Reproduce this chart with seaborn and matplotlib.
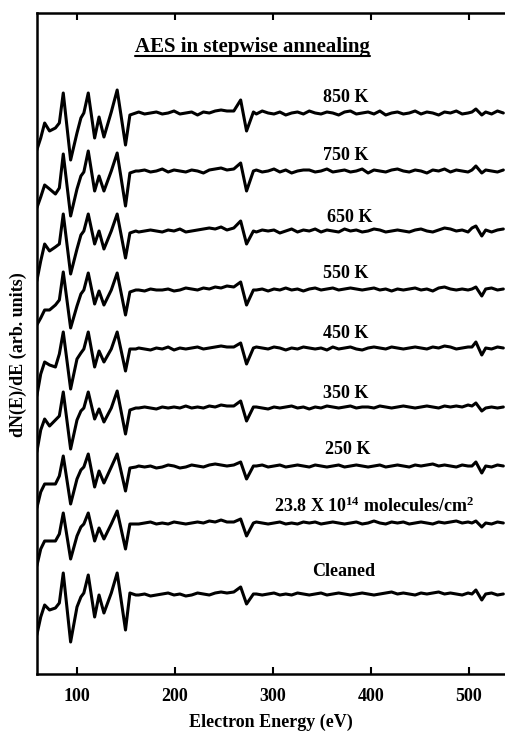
import numpy as np
import pandas as pd
import matplotlib
matplotlib.use("Agg")
import matplotlib.pyplot as plt
import seaborn as sns
from matplotlib.lines import Line2D

# spectra, top to bottom
SAMPLES = ["850 K", "750 K", "650 K", "550 K", "450 K", "350 K", "250 K",
           "23.8 X 10$^{14}$ molecules/cm$^{2}$", "Cleaned"]
# vertical offset of each trace (arb. units)
OFFSETS = [561, 503, 443, 384, 325, 266, 207, 150, 79]

# low-energy region: Si / C / O features
LOW_E = [59, 63, 67, 72, 78, 82, 86, 93.5, 100, 104, 107, 111.5, 118, 122.5,
         127.5, 135, 141, 149.5, 154, 160]
LOW_VALS = [
    [-37, -25, -10, -18, -15, -10, 20, -47, -20, -5, 0, 20, -25, -4, -24, 1, 23, -32, -2, 0],
    [-37, -26, -14, -18, -23, -17, 17, -45, -18, -5, -1, 20, -20, -5, -20, 0, 18, -35, -2, 0],
    [-50, -30, -13, -20, -16, -13, 17, -43, -18, -4, 0, 17, -13, 0, -18, 0, 17, -27, -2, 0],
    [-35, -28, -20, -20, -15, -10, 18, -38, -16, -4, 0, 17, -14, -1, -15, 0, 17, -25, -2, 0],
    [-47, -25, -13, -16, -18, -5, 17, -40, -10, -4, 0, 17, -18, -2, -13, 0, 17, -22, 0, 0],
    [-44, -22, -11, -18, -12, -8, 16, -41, -12, -3, 0, 16, -11, -1, -14, 0, 17, -26, -2, 0],
    [-41, -25, -17, -17, -17, -9, 11, -37, -12, -3, 0, 13, -20, -4, -16, 0, 13, -24, -1, 0],
    [-42, -25, -17, -17, -17, -10, 11, -35, -12, -3, 0, 11, -17, -4, -15, 0, 13, -25, 0, 0],
    [-40, -22, -10, -15, -13, -8, 22, -47, -12, -2, 2, 20, -22, 0, -18, 2, 22, -35, 2, 0],
]

# flat high-energy tail, read every 6 eV from 163 eV
TAIL_E = list(range(163, 538, 6))
TAIL_VALS = [
    [1, -1, 0, 1, -1, 0, 2, -1, 0, 1, -2, 1, 0, 2, 3, 2, 0, 0, 0, 0, -1, 2, 0, -1, 1, -2, 0,
     1, -1, 2, 0, -1, 1, 0, -2, 1, 2, -1, 0, 1, -1, 2, -2, 0, 1, -1, 0, 2, -1, 1, 0, -2, 1, 0,
     2, -1, 0, 0, 0, 1, -1, 2, 0],
    [0, 1, -1, 0, 2, -1, 1, 0, -1, 1, 0, -2, 1, 2, 3, 1, 0, 0, 0, 0, 1, -1, 0, 2, -1, 1, -2,
     0, 1, 1, -1, 0, 2, -1, 0, 1, -1, 0, 2, -2, 1, 0, -1, 1, 2, 0, -1, 1, 0, -2, 1, 0, 2, -1,
     1, 0, -1, 0, 0, 1, 0, -1, 1],
    [-1, 0, 1, 0, -1, 1, 0, 2, -1, 0, 1, 2, 3, 2, 4, 1, 0, 0, 0, 0, -1, 1, 0, 1, -2, 0, 2,
     -1, 1, 0, 2, -1, 1, 0, -1, 2, 0, 1, -1, 0, 2, 1, -1, 0, 1, 0, -1, 1, 2, 0, -1, 1, 3, 2,
     0, 1, -1, 0, 0, 1, -1, 1, 2],
    [0, -1, 1, 0, 0, 1, -1, 0, 2, 1, 0, 2, 1, 3, 2, 4, 0, 0, 0, 0, 0, 1, -1, 1, 0, 2, 0,
     1, -1, 1, 2, 0, 1, 2, 0, 1, 2, 1, 0, 1, 2, 0, 1, -1, 1, 0, 1, 2, 0, 1, -1, 2, 3, 1,
     0, 1, 0, 0, 0, 1, 2, 0, 1],
    [1, 0, -1, 1, 0, 2, -1, 1, 0, 1, 2, 0, 1, 2, 3, 2, 0, 0, 0, 0, 2, 1, 0, 2, 1, -1, 1,
     0, 2, 1, 0, 1, -1, 2, 0, 1, 2, 0, -1, 1, 2, 1, 0, 2, 1, 0, 1, 2, 1, 0, 2, 1, 3, 2,
     0, 1, 2, 0, 0, 1, 0, 2, 1],
    [0, 1, 0, -1, 1, 0, 1, 0, 2, 0, 1, 0, 2, 1, 3, 2, 0, 0, 0, 0, 1, 0, -1, 1, 0, 1, 2,
     0, 1, -1, 1, 0, 2, 1, 0, 1, 2, 0, 1, 1, 0, 2, 1, 0, 1, 2, 1, 0, 1, 2, 1, 0, 2, 1,
     2, 1, 3, 0, 0, 0, 1, 0, 1],
    [1, 0, 1, -1, 0, 2, 1, -1, 0, 2, 1, 0, 2, 3, 2, 1, 0, 0, 0, 0, 1, 2, 0, 1, 2, 0, 1,
     2, 1, 0, 2, 1, 0, 1, 2, 0, 1, 2, 1, 0, 1, 2, 0, 1, 2, 1, 0, 2, 1, 2, 3, 1, 2, 1,
     0, 2, 1, 0, 0, 1, 0, 2, 1],
    [0, 1, 2, 0, 1, 0, 2, 1, 0, 1, 2, 1, 3, 2, 4, 2, 0, 0, 0, 0, 2, 1, 0, 1, 2, 0, 1,
     0, 2, 1, 2, 0, 1, 2, 1, 0, 1, 2, 0, 1, 3, 1, 0, 2, 1, 2, 0, 1, 2, 1, 0, 2, 1, 2,
     3, 1, 2, 0, 0, 1, 0, 2, 1],
    [0, 1, -1, 0, 1, 2, 0, 1, -1, 0, 2, 1, 0, 2, 3, 2, 0, 0, 0, 0, 1, 0, 1, 2, 0, 1, 0,
     2, 1, 0, 1, 2, 0, 1, 2, 1, 0, 1, 2, 1, 0, 1, 2, 3, 1, 2, 1, 0, 2, 1, 2, 3, 1, 2,
     1, 0, 2, 0, 0, 1, 2, 0, 1],
]

# sulfur LMM feature
S_E = [260, 267, 273, 280]
S_VALS = [[2, 13, -18, 1], [2, 8, -20, 0], [3, 10, -13, 0], [3, 8, -15, 0],
          [2, 6, -15, 1], [2, 7, -13, 1], [2, 5, -12, 1], [2, 5, -12, 1], [3, 8, -9, 1]]

# oxygen KLL feature
K_E = [503, 507, 513]
K_VALS = [[1, 4, -2], [1, 5, -2], [3, 5, -5], [1, 3, -6], [2, 7, -6],
          [2, 5, -3], [1, 5, -6], [1, 3, -3], [1, 5, -5]]

# label anchor (eV, arb. units)
LABEL_X = [374, 374, 378, 374, 374, 374, 376, 403, 372]
LABEL_Y = [577, 519, 456, 400, 341, 281, 225, 168, 102]


def build_frame():
    rows = []
    for i, name in enumerate(SAMPLES):
        pts = list(zip(LOW_E, LOW_VALS[i]))
        for e, v in zip(TAIL_E, TAIL_VALS[i]):
            if 256 <= e <= 282 or 500 <= e <= 516:
                continue
            pts.append((e, v))
        pts += list(zip(S_E, S_VALS[i]))
        pts += list(zip(K_E, K_VALS[i]))
        for e, v in pts:
            rows.append({"sample": name, "energy": e, "signal": v + OFFSETS[i]})
    return pd.DataFrame(rows)


df = build_frame()

sns.set_theme(style="ticks")
plt.rcParams["font.family"] = ["Liberation Serif", "DejaVu Serif"]
plt.rcParams["font.weight"] = "bold"
plt.rcParams["text.color"] = "black"
plt.rcParams["axes.labelcolor"] = "black"
plt.rcParams["xtick.color"] = "black"
plt.rcParams["mathtext.fontset"] = "custom"
plt.rcParams["mathtext.rm"] = "Liberation Serif:bold"
plt.rcParams["mathtext.bf"] = "Liberation Serif:bold"
plt.rcParams["mathtext.default"] = "rm"

fig = plt.figure(figsize=(5.05, 7.35), dpi=100)
ax = fig.add_axes([37 / 505, 61 / 735, 1 - 37 / 505, 661 / 735])

sns.lineplot(data=df, x="energy", y="signal", hue="sample", units="sample",
             estimator=None, palette=["black"] * len(SAMPLES), legend=False,
             linewidth=2.2, ax=ax)

ax.set_xlim(59.2, 536.7)
ax.set_ylim(0, 661)
ax.set_xticks([100, 200, 300, 400, 500])
ax.set_yticks([])
ax.tick_params(axis="x", direction="in", length=5, width=1.5, top=True,
               labelsize=13, pad=10, colors="black")
for lab in ax.get_xticklabels():
    lab.set_fontweight("bold")
for side in ["left", "bottom", "top"]:
    ax.spines[side].set_linewidth(1.8)
    ax.spines[side].set_color("black")
ax.spines["right"].set_visible(False)

ax.set_xlabel("Electron Energy (eV)", fontsize=13, fontweight="bold", labelpad=6)
ax.set_ylabel("dN(E)/dE (arb. units)", fontsize=13, fontweight="bold")
ax.yaxis.set_label_coords(-0.022, 0.483)

for name, lx, ly in zip(SAMPLES, LABEL_X, LABEL_Y):
    ax.text(lx, ly, name, ha="center", va="center", fontsize=13, fontweight="bold")

title = ax.text(278.6, 627, "AES in stepwise annealing", ha="center", va="center",
                fontsize=15, fontweight="bold")

# underline the title
fig.canvas.draw()
bb = title.get_window_extent().transformed(fig.transFigure.inverted())
fig.add_artist(Line2D([bb.x0, bb.x1], [bb.y0 + 0.001, bb.y0 + 0.001],
                      transform=fig.transFigure, color="black", linewidth=1.5))

fig.savefig("out.png", dpi=100)
